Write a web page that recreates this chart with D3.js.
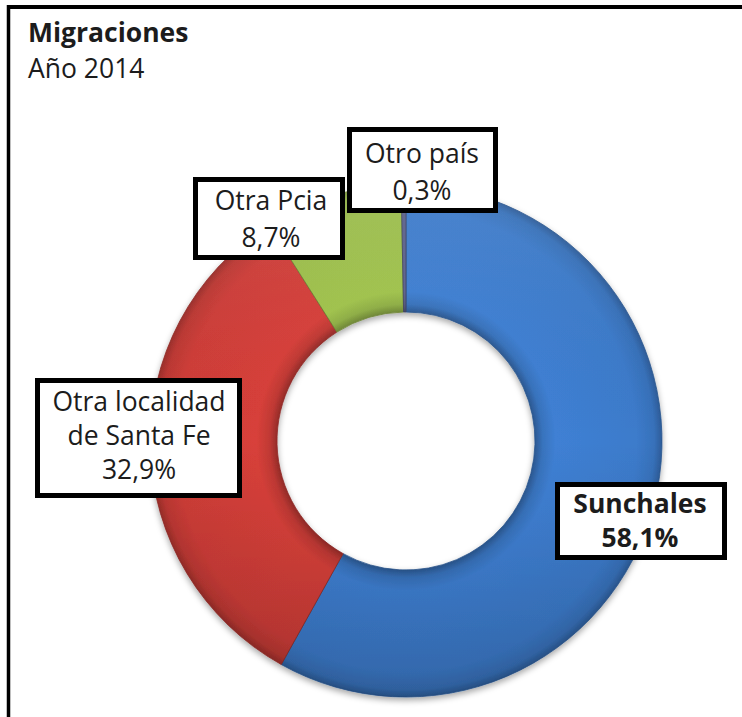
<!DOCTYPE html>
<html>
<head>
<meta charset="utf-8">
<script src="https://cdn.jsdelivr.net/npm/d3@7"></script>
<style>
  html, body { margin: 0; padding: 0; background: #ffffff; }
  svg { display: block; }
  text { font-family: "Open Sans", "Noto Sans", sans-serif; fill: #1c1c1c; }
</style>
</head>
<body>
<svg id="chart" width="742" height="717"></svg>
<script>
// ---- Data ----
const categories = ["Sunchales", "Otra localidad de Santa Fe", "Otra Pcia", "Otro país"];
const values = [58.1, 32.9, 8.7, 0.3];
const valueLabels = ["58,1%", "32,9%", "8,7%", "0,3%"];
const labelLines = [["Sunchales"], ["Otra localidad", "de Santa Fe"], ["Otra Pcia"], ["Otro país"]];
const colors = ["#3c7bcb", "#cf3d38", "#9bbd4a", "#5a5f8a"];
const title = "Migraciones";
const subtitle = "Año 2014";

// ---- Layout ----
const W = 742, H = 717;
const cx = 406, cy = 441, outerR = 256, innerR = 129;
const labelLayout = [
  { box: [555, 482, 727, 560], cx: 640, base: 513, step: 34, bold: true },
  { box: [35, 378, 242, 498], cx: 139, base: 411, step: 34, bold: false },
  { box: [193, 177, 345, 260], cx: 271, base: 210, step: 37, bold: false },
  { box: [347, 127, 498, 213], cx: 422, base: 163, step: 37, bold: false }
];

const svg = d3.select("#chart");
const defs = svg.append("defs");

// frame
svg.append("line").attr("x1", 8.5).attr("y1", 5).attr("x2", 8.5).attr("y2", H).attr("stroke", "#000").attr("stroke-width", 3.5);
svg.append("line").attr("x1", 7).attr("y1", 7).attr("x2", W).attr("y2", 7).attr("stroke", "#000").attr("stroke-width", 4);

// title
svg.append("text").attr("x", 28).attr("y", 42).attr("font-size", 26.5).attr("font-weight", 700).text(title);
svg.append("text").attr("x", 28).attr("y", 78).attr("font-size", 26.5).text(subtitle);

// shadow filter
const f = defs.append("filter").attr("id", "shadow").attr("x", "-10%").attr("y", "-10%").attr("width", "120%").attr("height", "125%");
f.append("feDropShadow").attr("dx", 0).attr("dy", 3).attr("stdDeviation", 3).attr("flood-color", "#000").attr("flood-opacity", 0.35);

// bevel gradients (donut group is centred, so gradients use centre-relative coords)
colors.forEach((c, i) => {
  const base = d3.color(c);
  const g = defs.append("radialGradient").attr("id", "rg" + i)
    .attr("gradientUnits", "userSpaceOnUse").attr("cx", 0).attr("cy", 0).attr("r", outerR);
  const t0 = innerR / outerR;
  [[t0, base.darker(0.9)], [t0 + 0.03, base.darker(0.2)], [t0 + 0.08, base.brighter(0.12)],
   [0.9, base], [0.97, base.darker(0.25)], [1, base.darker(0.8)]]
    .forEach(([o, col]) => g.append("stop").attr("offset", o).attr("stop-color", col.formatHex()));
});
const lg = defs.append("linearGradient").attr("id", "shade")
  .attr("gradientUnits", "userSpaceOnUse").attr("x1", 0).attr("y1", -outerR).attr("x2", 0).attr("y2", outerR);
lg.append("stop").attr("offset", 0).attr("stop-color", "#fff").attr("stop-opacity", 0.08);
lg.append("stop").attr("offset", 0.5).attr("stop-color", "#000").attr("stop-opacity", 0);
lg.append("stop").attr("offset", 1).attr("stop-color", "#000").attr("stop-opacity", 0.16);

const data = categories.map((c, i) => ({ name: c, value: values[i], i }));
const pie = d3.pie().value(d => d.value).sort(null);
const arc = d3.arc().innerRadius(innerR).outerRadius(outerR);
const arcs = pie(data);

const gDonut = svg.append("g").attr("transform", `translate(${cx},${cy})`).attr("filter", "url(#shadow)");
gDonut.selectAll("path.slice").data(arcs).join("path")
  .attr("class", "slice")
  .attr("d", arc)
  .attr("fill", d => `url(#rg${d.data.i})`)
  .attr("stroke", d => d3.color(colors[d.data.i]).darker(1).formatHex())
  .attr("stroke-width", 0.8);
gDonut.selectAll("path.overlay").data(arcs).join("path")
  .attr("class", "overlay").attr("d", arc).attr("fill", "url(#shade)");

// labels
labelLayout.forEach((L, i) => {
  const [x0, y0, x1, y1] = L.box;
  const sw = 5;
  svg.append("rect")
    .attr("x", x0 + sw / 2).attr("y", y0 + sw / 2)
    .attr("width", x1 - x0 - sw).attr("height", y1 - y0 - sw)
    .attr("fill", "#fff").attr("stroke", "#000").attr("stroke-width", sw);
  const lines = labelLines[i].concat([valueLabels[i]]);
  const t = svg.append("text").attr("text-anchor", "middle").attr("font-size", 26.5)
    .attr("font-weight", L.bold ? 700 : 400);
  lines.forEach((ln, k) => {
    t.append("tspan").attr("x", L.cx).attr("y", L.base + k * L.step).text(ln);
  });
});
</script>
</body>
</html>
